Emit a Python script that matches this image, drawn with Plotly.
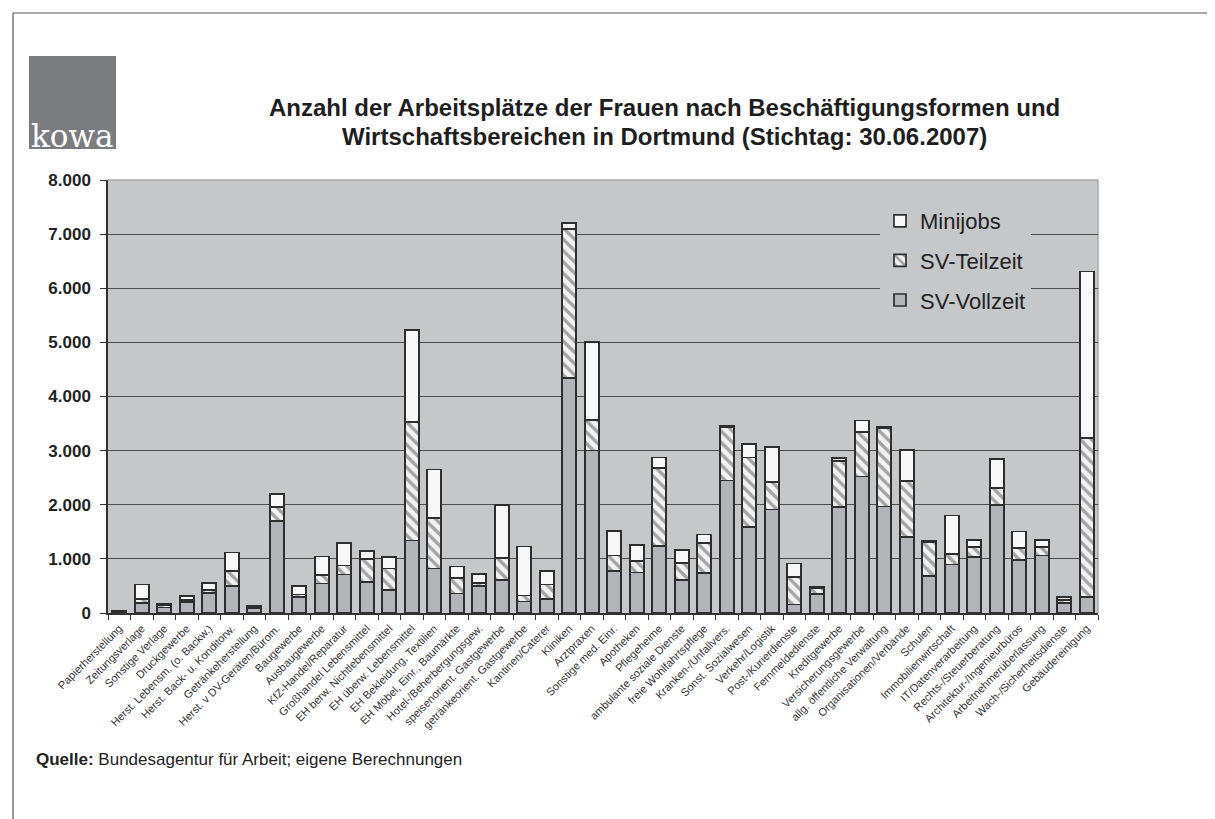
import plotly.graph_objects as go

categories = [
    "Papierherstellung", "Zeitungsverlage", "Sonstige Verlage", "Druckgewerbe",
    "Herst. Lebensm. (o. Backw.)", "Herst. Back- u. Konditorw.", "Getränkeherstellung",
    "Herst. v DV-Geräten/Bürom.", "Baugewerbe", "Ausbaugewerbe", "KfZ-Handel/Reparatur",
    "Großhandel Lebensmittel", "EH berw. Nichtlebensmittel", "EH überw. Lebensmittel",
    "EH Bekleidung, Textilien", "EH Möbel, Einr., Baumärkte", "Hotel-/Beherbergungsgew.",
    "speisenorient. Gastgewerbe", "getränkeorient. Gastgewerbe", "Kantinen/Caterer",
    "Kliniken", "Arztpraxen", "Sonstige med. Einr.", "Apotheken", "Pflegeheime",
    "ambulante soziale Dienste", "freie Wohlfahrtspflege", "Kranken-/Unfallvers.",
    "Sonst. Sozialwesen", "Verkehr/Logistik", "Post-/Kurierdienste", "Fernmeldedienste",
    "Kreditgewerbe", "Versicherungsgewerbe", "allg. öffentliche Verwaltung",
    "Organisationen/Verbände", "Schulen", "Immobilienwirtschaft", "IT/Datenverarbeitung",
    "Rechts-/Steuerberatung", "Architektur-/Ingenieurbüros", "Arbeitnehmerüberlassung",
    "Wach-/Sicherheitsdienste", "Gebäudereinigung",
]

sv_vollzeit = [25, 185, 100, 205, 370, 495, 90, 1700, 300, 545,
               710, 570, 430, 1340, 820, 360, 505, 615, 215, 260,
               4340, 3005, 780, 750, 1240, 615, 740, 2450, 1590, 1915,
               155, 355, 1960, 2520, 1970, 1410, 685, 895, 1040, 2000,
               985, 1060, 185, 295]
sv_teilzeit = [10, 80, 40, 30, 50, 275, 25, 260, 40, 155,
               165, 430, 390, 2185, 935, 290, 50, 395, 110, 265,
               2755, 560, 285, 210, 1440, 310, 555, 985, 1285, 505,
               510, 95, 845, 820, 1450, 1025, 615, 195, 180, 315,
               210, 165, 60, 2940]
minijobs = [5, 260, 25, 85, 135, 350, 25, 235, 155, 345,
            420, 150, 215, 1710, 895, 210, 165, 985, 905, 245,
            110, 1440, 455, 290, 195, 235, 155, 15, 250, 645,
            250, 30, 60, 215, 20, 575, 25, 710, 135, 530,
            310, 130, 50, 3075]

y_ticks = [0, 1000, 2000, 3000, 4000, 5000, 6000, 7000, 8000]

title_line1 = "Anzahl der Arbeitsplätze der Frauen nach Beschäftigungsformen und"
title_line2 = "Wirtschaftsbereichen in Dortmund (Stichtag: 30.06.2007)"
source_text = "<b>Quelle:</b> Bundesagentur für Arbeit; eigene Berechnungen"

FONT = "Liberation Sans, Arial, sans-serif"
PLOT_BG = "#c6c7c9"
OUTLINE = dict(color="#2e2e2e", width=1.7)

# plot area in pixels
L, R, T, B = 100, 1090, 172, 605
W, H = 1215, 819


def xp(px):
    return (px - L) / (R - L)


def yp(py):
    return (B - py) / (B - T)


fig = go.Figure()
fig.add_trace(go.Bar(
    x=categories, y=sv_vollzeit, name="SV-Vollzeit", legendgroup="a", legendrank=3,
    marker=dict(color="#b3b4b7", line=OUTLINE),
))
fig.add_trace(go.Bar(
    x=categories, y=sv_teilzeit, name="SV-Teilzeit", legendgroup="b", legendrank=2,
    marker=dict(color="#f2f2f2", line=OUTLINE,
                pattern=dict(shape="\\", fgcolor="#555555", bgcolor="#f2f2f2",
                             size=8, solidity=0.42)),
))
fig.add_trace(go.Bar(
    x=categories, y=minijobs, name="Minijobs", legendgroup="c", legendrank=1,
    marker=dict(color="#f8f8f8", line=OUTLINE),
))

fig.update_layout(
    width=W, height=H,
    margin=dict(l=L, r=W - R, t=T, b=H - B, autoexpand=False),
    paper_bgcolor="white", plot_bgcolor=PLOT_BG,
    barmode="stack", bargap=0.38,
    separators=",.",
    font=dict(family=FONT, color="#222222"),
    showlegend=True,
    legend=dict(
        x=xp(872), y=yp(192), xanchor="left", yanchor="top",
        bgcolor=PLOT_BG, borderwidth=0,
        font=dict(family=FONT, size=22, color="#222222"),
        traceorder="grouped", tracegroupgap=8,
        itemwidth=30,
    ),
    xaxis=dict(
        type="category", tickangle=-45, tickson="boundaries",
        ticks="outside", ticklen=5, tickcolor="#333333",
        tickfont=dict(family=FONT, size=11, color="#333333"),
        ticklabelstandoff=3,
        showline=True, linecolor="#333333", linewidth=1.5,
        showgrid=False,
    ),
    yaxis=dict(
        range=[0, 8000], tickvals=y_ticks, tickformat=",d",
        ticks="outside", ticklen=6, tickcolor="#333333",
        tickfont=dict(family=FONT, size=17, color="#222222", weight="bold"),
        ticklabelstandoff=6,
        showline=True, linecolor="#333333", linewidth=1.5,
        showgrid=True, gridcolor="#4d4d4d", gridwidth=1.2,
        zeroline=False,
    ),
)

shapes = [
    # outer frame: top and left edges
    dict(type="line", xref="paper", yref="paper",
         x0=xp(5), x1=xp(1215), y0=yp(5), y1=yp(5),
         line=dict(color="#555555", width=1.2), layer="below"),
    dict(type="line", xref="paper", yref="paper",
         x0=xp(5), x1=xp(5), y0=yp(5), y1=yp(819),
         line=dict(color="#555555", width=1.2), layer="below"),
    # light top and right border of the plot area
    dict(type="line", xref="paper", yref="paper", x0=0, x1=1, y0=1, y1=1,
         line=dict(color="#a8a8a8", width=1.5), layer="between"),
    dict(type="line", xref="paper", yref="paper", x0=1, x1=1, y0=0, y1=1,
         line=dict(color="#a8a8a8", width=1.5), layer="between"),
    # logo box
    dict(type="rect", xref="paper", yref="paper",
         x0=xp(21), x1=xp(108), y0=yp(141), y1=yp(48),
         line=dict(width=0), fillcolor="#7b7c80", layer="below"),
]
fig.update_layout(shapes=shapes)

fig.add_annotation(
    xref="paper", yref="paper", x=xp(21), y=yp(148), xanchor="left", yanchor="bottom",
    text="kowa", showarrow=False,
    font=dict(family="DejaVu Serif, Liberation Serif, serif", size=31, color="white"),
)
fig.add_annotation(
    xref="paper", yref="paper", x=xp(656), y=yp(100), xanchor="center", yanchor="middle",
    text=title_line1, showarrow=False,
    font=dict(family=FONT, size=24, color="#1e1e1e", weight="bold"),
)
fig.add_annotation(
    xref="paper", yref="paper", x=xp(656), y=yp(128), xanchor="center", yanchor="middle",
    text=title_line2, showarrow=False,
    font=dict(family=FONT, size=24, color="#1e1e1e", weight="bold"),
)
fig.add_annotation(
    xref="paper", yref="paper", x=xp(26), y=yp(751), xanchor="left", yanchor="middle",
    text=source_text, showarrow=False, align="left",
    font=dict(family=FONT, size=17, color="#222222"),
)

fig.write_html("out.html")
